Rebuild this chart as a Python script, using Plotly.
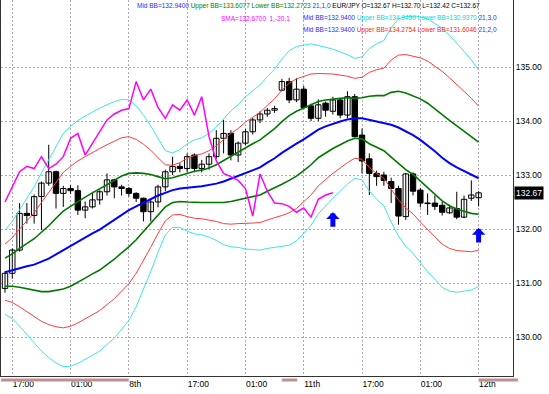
import plotly.graph_objects as go

# ---------------- data ----------------
bar_index = list(range(66))

opens = [130.90, 131.18, 131.61, 132.29, 132.25, 132.60, 132.85, 133.06, 132.66, 132.75,
         132.71, 132.35, 132.41, 132.54, 132.69, 132.91, 132.78, 132.75, 132.66, 132.57,
         132.32, 132.50, 132.78, 133.06, 133.16, 133.12, 133.37, 133.12, 133.20, 133.34,
         133.68, 133.77, 133.37, 133.59, 133.80, 134.02, 134.13, 134.20, 134.57, 134.73,
         134.39, 134.59, 134.28, 134.05, 134.33, 134.18, 134.39, 134.11, 134.45, 133.74,
         133.30, 133.03, 133.00, 132.88, 132.75, 132.23, 133.02, 132.72, 132.48, 132.48,
         132.44, 132.30, 132.38, 132.22, 132.57, 132.58]
highs = [131.22, 131.64, 132.48, 132.48, 132.64, 132.88, 133.56, 133.08, 132.80, 132.81,
         132.81, 132.51, 132.69, 132.72, 133.03, 132.93, 132.82, 132.78, 132.68, 132.58,
         132.55, 132.82, 133.10, 133.34, 133.22, 133.40, 133.40, 133.28, 133.40, 133.83,
         134.02, 133.83, 133.62, 133.85, 134.06, 134.18, 134.24, 134.28, 134.78, 134.80,
         134.79, 134.65, 134.32, 134.40, 134.36, 134.45, 134.42, 134.55, 134.50, 133.86,
         133.40, 133.08, 133.06, 132.95, 132.80, 133.04, 133.05, 132.76, 132.66, 132.62,
         132.50, 132.45, 132.69, 132.62, 132.90, 132.70]
lows = [130.82, 131.08, 131.58, 132.10, 132.10, 131.98, 132.80, 132.38, 132.41, 132.65,
        132.26, 132.20, 132.38, 132.45, 132.62, 132.57, 132.62, 132.60, 132.50, 132.14,
        132.14, 132.40, 132.70, 133.00, 133.05, 133.05, 133.05, 133.05, 133.10, 133.30,
        133.40, 133.27, 133.24, 133.55, 133.75, 133.96, 134.08, 134.15, 134.55, 134.33,
        134.35, 134.22, 134.00, 134.00, 134.08, 134.12, 134.05, 134.05, 133.70, 133.03,
        132.63, 132.80, 132.80, 132.48, 132.08, 132.17, 132.62, 132.40, 132.26, 132.35,
        132.25, 132.28, 132.18, 132.20, 132.52, 132.42]
closes = [131.18, 131.61, 132.29, 132.25, 132.60, 132.85, 133.06, 132.66, 132.75, 132.71,
          132.35, 132.41, 132.54, 132.69, 132.91, 132.78, 132.75, 132.66, 132.57, 132.32,
          132.50, 132.78, 133.06, 133.16, 133.12, 133.34, 133.12, 133.20, 133.34, 133.68,
          133.77, 133.37, 133.59, 133.80, 134.02, 134.13, 134.20, 134.23, 134.73, 134.39,
          134.59, 134.25, 134.05, 134.30, 134.20, 134.39, 134.11, 134.45, 133.71, 133.26,
          133.03, 132.97, 132.90, 132.75, 132.24, 133.02, 132.70, 132.48, 132.47, 132.42,
          132.31, 132.39, 132.22, 132.55, 132.63, 132.67]

bb_mid = [131.20, 131.24, 131.28, 131.31, 131.34, 131.39, 131.45, 131.53, 131.61, 131.68,
          131.76, 131.84, 131.92, 131.99, 132.08, 132.17, 132.27, 132.35, 132.42, 132.49,
          132.56, 132.62, 132.67, 132.72, 132.75, 132.77, 132.78, 132.79, 132.81, 132.84,
          132.88, 132.93, 132.98, 133.04, 133.09, 133.14, 133.23, 133.31, 133.41, 133.50,
          133.58, 133.66, 133.75, 133.84, 133.90, 133.95, 133.99, 134.03, 134.05, 134.05,
          134.02, 133.99, 133.96, 133.93, 133.88, 133.81, 133.74, 133.65, 133.55, 133.44,
          133.32, 133.22, 133.14, 133.07, 133.00, 132.94]
bb_sigma = [0.26, 0.30, 0.36, 0.42, 0.48, 0.55, 0.61, 0.67, 0.72, 0.74,
            0.75, 0.75, 0.75, 0.75, 0.74, 0.73, 0.71, 0.68, 0.62, 0.54,
            0.45, 0.35, 0.26, 0.23, 0.24, 0.27, 0.29, 0.30, 0.32, 0.35,
            0.39, 0.42, 0.44, 0.47, 0.49, 0.51, 0.53, 0.55, 0.58, 0.60,
            0.60, 0.58, 0.56, 0.52, 0.49, 0.46, 0.43, 0.40, 0.37, 0.38,
            0.44, 0.48, 0.51, 0.60, 0.67, 0.71, 0.73, 0.76, 0.78, 0.79,
            0.80, 0.79, 0.77, 0.74, 0.71, 0.668]

sma_shift = 20            # SMA(1) shifted by -20 bars
tick_idx = [1, 9, 17, 25, 33, 41, 49, 57, 65]
tick_text = ["17:00", "01:00", "8th", "17:00", "01:00", "11th", "17:00", "01:00", "12th"]
price_ticks = [130.0, 131.0, 132.0, 133.0, 134.0, 135.0]
arrow_idx = [45, 65]
arrow_price = [132.31, 132.02]
last_price = 132.67
period_marks = [(-0.55, 17.0), (38.0, 40.1), (65.0, 70.4)]

# ---------------- figure ----------------
X_MIN, X_MAX = -0.55, 69.72
Y_MIN, Y_MAX = 129.278, 136.241
FONT = "Liberation Sans, Arial, sans-serif"

fig = go.Figure()

# wicks
wx, wy = [], []
for i, h, l in zip(bar_index, highs, lows):
    wx += [i, i, None]
    wy += [l, h, None]
fig.add_trace(go.Scatter(x=wx, y=wy, mode="lines", line=dict(color="black", width=1),
                         showlegend=False, hoverinfo="skip"))

# bodies
body_base = [min(o, c) for o, c in zip(opens, closes)]
body_len = [max(abs(c - o), 0.012) for o, c in zip(opens, closes)]
body_col = ["white" if c >= o else "black" for o, c in zip(opens, closes)]
fig.add_trace(go.Bar(x=bar_index, y=body_len, base=body_base, width=0.74,
                     marker=dict(color=body_col, line=dict(color="black", width=1)),
                     showlegend=False, hoverinfo="skip"))

def band(k):
    return [m + k * s for m, s in zip(bb_mid, bb_sigma)]

band_styles = [(3, "#3ae6e6", 1), (-3, "#3ae6e6", 1),
               (2, "#ff3c3c", 1), (-2, "#ff3c3c", 1),
               (1, "#007800", 1.6), (-1, "#007800", 1.6)]
for k, col, w in band_styles:
    fig.add_trace(go.Scatter(x=bar_index, y=band(k), mode="lines",
                             line=dict(color=col, width=w), showlegend=False,
                             hoverinfo="skip"))
fig.add_trace(go.Scatter(x=bar_index, y=bb_mid, mode="lines",
                         line=dict(color="#0000ff", width=2), showlegend=False,
                         hoverinfo="skip"))

# SMA(1) shifted -20 (chikou-like line)
fig.add_trace(go.Scatter(x=bar_index[:len(closes) - sma_shift], y=closes[sma_shift:],
                         mode="lines", line=dict(color="#ff00ff", width=1.5),
                         showlegend=False, hoverinfo="skip"))

# blue up arrows
for xi, yp in zip(arrow_idx, arrow_price):
    fig.add_annotation(x=xi, y=yp, xref="x", yref="y", text="", showarrow=True,
                       ax=0, ay=16, arrowhead=1, arrowsize=0.45, arrowwidth=5,
                       arrowcolor="#0000ff")

# current price label
fig.add_annotation(x=1.0, y=last_price, xref="paper", yref="y", xanchor="left",
                   yanchor="middle", text=f"{last_price:.2f}", showarrow=False,
                   font=dict(family=FONT, size=8.5, color="white"),
                   bgcolor="black", borderpad=1, xshift=1)

# indicator info texts
PW, PH, L = 512.0, 376.0, 1.0
def px(x):
    return (x - L) / PW
def py(y):
    return 1 - y / PH

BLUE, GREEN, RED, CYAN, MAG = "#2a2aff", "#008000", "#ff2020", "#00d8d8", "#ff00ff"
def sp(t, c):
    return f'<span style="color:{c}">{t}</span>'

info = [
    (135, 6.5, sp("Mid BB=132.9400 ", BLUE) + sp("Upper BB=133.6077 Lower BB=132.2723 ", GREEN)
     + sp("21,1,0 ", BLUE) + sp("EUR/JPY O=132.67 H=132.70 L=132.42 C=132.67", "black")),
    (219, 18.5, sp("SMA=132.6700  1,-20,1", MAG)),
    (301, 18.5, sp("Mid BB=132.9400 ", BLUE) + sp("Upper BB=134.9430 Lower BB=130.9370 ", CYAN)
     + sp("21,3,0", BLUE)),
    (301, 30.0, sp("Mid BB=132.9400 ", BLUE) + sp("Upper BB=134.2754 Lower BB=131.6046 ", RED)
     + sp("21,2,0", BLUE)),
]
for x0, y0, txt in info:
    fig.add_annotation(x=px(x0), y=py(y0), xref="paper", yref="paper", xanchor="left",
                       yanchor="middle", text=txt, showarrow=False,
                       font=dict(family=FONT, size=6.5, color="black"))

# period marks under the time axis
for a, b in period_marks:
    fig.add_shape(type="rect", xref="paper", yref="paper",
                  x0=(a - X_MIN) / (X_MAX - X_MIN), x1=(b - X_MIN) / (X_MAX - X_MIN),
                  y0=-5.5 / PH, y1=-2.5 / PH, line=dict(color="#e0c8c8", width=0.5),
                  fillcolor="#c09090", layer="above")

GRID = "#b4a4bc"
fig.update_layout(
    width=549, height=394,
    margin=dict(l=1, r=36, t=0, b=18),
    paper_bgcolor="white", plot_bgcolor="white",
    font=dict(family=FONT, size=8.5, color="black"),
    showlegend=False, barmode="overlay", bargap=0,
    xaxis=dict(range=[X_MIN, X_MAX], tickvals=tick_idx, ticktext=tick_text,
               ticklabelposition="outside right", ticks="", ticklen=0, showgrid=True,
               gridcolor=GRID, griddash="2px,2px", gridwidth=1, zeroline=False,
               showline=True, linecolor="#333333", linewidth=1,
               fixedrange=True,
               tickfont=dict(size=8.5, family=FONT, color="black")),
    yaxis=dict(range=[Y_MIN, Y_MAX], side="right", tickvals=price_ticks,
               tickformat=".2f", ticks="", ticklen=0, showgrid=True, gridcolor=GRID,
               griddash="2px,2px", gridwidth=1, zeroline=False, showline=True,
               linecolor="#333333", linewidth=1, mirror=True, fixedrange=True,
               tickfont=dict(size=8.5, family=FONT, color="black")),
)

fig.write_html("out.html", config={"displayModeBar": False, "staticPlot": True},
               post_script="document.body.style.margin='0';document.body.style.overflow='hidden';")
